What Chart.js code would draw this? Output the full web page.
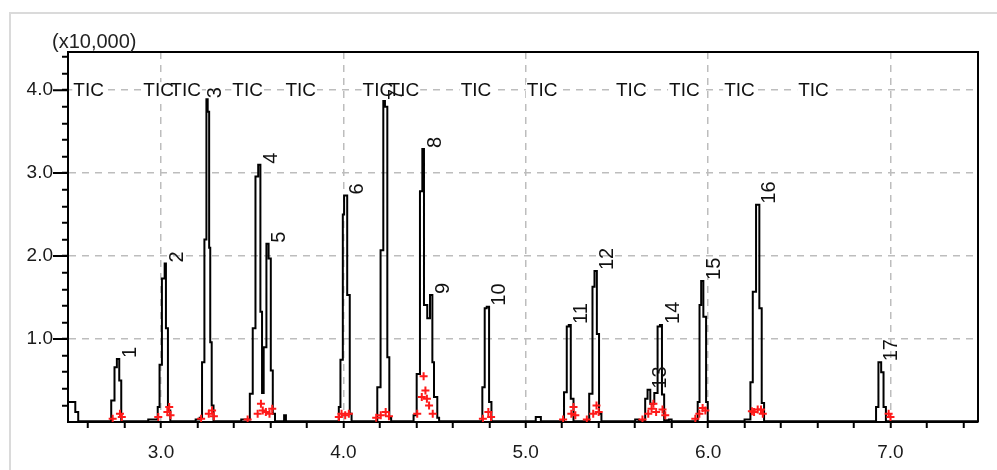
<!DOCTYPE html>
<html>
<head>
<meta charset="utf-8">
<script src="https://cdn.jsdelivr.net/npm/chart.js@4/dist/chart.umd.min.js"></script>
<style>
  html, body { margin: 0; padding: 0; background: #fff; }
  #wrap { width: 997px; height: 470px; }
</style>
</head>
<body>
<div id="wrap"><canvas id="chrom" width="997" height="470"></canvas></div>
<script>
// TIC trace, one step per scan: retention time (min) and intensity (x10,000)
const scanTimes = [
  2.490, 2.530, 2.546,
  2.727, 2.745, 2.758, 2.771, 2.782,
  2.930,
  2.982, 2.992, 3.005, 3.020, 3.027, 3.038, 3.051,
  3.190, 3.212, 3.225, 3.238, 3.249, 3.256, 3.264, 3.270, 3.278, 3.288,
  3.440, 3.487, 3.503, 3.518, 3.533, 3.545, 3.554,
  3.563, 3.578, 3.590, 3.602, 3.613, 3.625,
  3.675, 3.685,
  3.975, 3.984, 3.997, 4.004, 4.021, 4.035, 4.045,
  4.186, 4.204, 4.219, 4.228, 4.241, 4.252, 4.262,
  4.385, 4.402, 4.420, 4.433, 4.442, 4.460, 4.475, 4.488, 4.497, 4.515, 4.525,
  4.762, 4.775, 4.786, 4.799, 4.812,
  5.055, 5.083,
  5.210, 5.225, 5.236, 5.247, 5.262,
  5.348, 5.366, 5.377, 5.390, 5.402, 5.415,
  5.600, 5.620,
  5.655, 5.668, 5.683, 5.705, 5.723, 5.736, 5.747, 5.759,
  5.785, 5.800,
  5.943, 5.953, 5.962, 5.974, 5.989, 5.998,
  6.200, 6.232, 6.245, 6.263, 6.281, 6.294, 6.307,
  6.921, 6.934, 6.949, 6.962, 6.975,
  7.480
];
const scanCounts = [
  0.24, 0.12, 0.01,
  0.26, 0.66, 0.76, 0.50, 0.01,
  0.03,
  0.18, 0.69, 1.73, 1.91, 1.13, 0.14, 0.01,
  0.03, 0.05, 0.72, 2.20, 3.89, 3.74, 2.10, 0.96, 0.20, 0.01,
  0.03, 0.34, 1.13, 2.96, 3.10, 1.33, 0.35,
  0.90, 2.15, 1.97, 0.62, 0.10, 0.01,
  0.08, 0.01,
  0.18, 0.75, 2.50, 2.73, 1.53, 0.10, 0.01,
  0.42, 2.07, 3.87, 3.80, 0.78, 0.05, 0.01,
  0.08, 0.58, 2.78, 3.29, 1.41, 1.25, 1.53, 0.72, 0.30, 0.05, 0.01,
  0.42, 1.37, 1.39, 0.24, 0.01,
  0.06, 0.01,
  0.36, 1.15, 1.17, 0.28, 0.01,
  0.34, 1.63, 1.82, 1.06, 0.10, 0.01,
  0.03, 0.01,
  0.28, 0.39, 0.22, 0.35, 1.15, 1.17, 0.33, 0.02,
  0.03, 0.01,
  0.24, 1.41, 1.70, 1.27, 0.24, 0.01,
  0.03, 0.48, 1.57, 2.62, 1.37, 0.23, 0.01,
  0.18, 0.72, 0.60, 0.18, 0.01,
  0.01
];

// peak numbers and where they sit (apex)
const peakNumbers = ['1','2','3','4','5','6','7','8','9','10','11','12','13','14','15','16','17'];
const peakTimes = [2.760, 3.020, 3.225, 3.535, 3.580, 4.005, 4.220, 4.435, 4.477, 4.787, 5.237, 5.378, 5.669, 5.737, 5.963, 6.265, 6.937];
const peakCounts = [0.76, 1.91, 3.89, 3.10, 2.15, 2.73, 3.87, 3.29, 1.53, 1.39, 1.17, 1.82, 0.39, 1.17, 1.70, 2.62, 0.72];

// "TIC" tags along the 4.0 line
const ticTimes = [2.519, 2.903, 3.051, 3.391, 3.682, 4.105, 4.248, 4.643, 5.006, 5.495, 5.786, 6.088, 6.494];
const ticLevel = 4.0;

// red integration marks near the baseline
const markTimes = [
  2.735, 2.775, 2.785,
  2.985, 3.035, 3.045, 3.052,
  3.220, 3.262, 3.280, 3.290,
  3.475, 3.530, 3.548, 3.558, 3.575, 3.595, 3.610,
  3.975, 3.990, 4.010, 4.030,
  4.180, 4.205, 4.232, 4.250,
  4.405, 4.430, 4.440, 4.450, 4.458, 4.470, 4.490,
  4.765, 4.795, 4.810,
  5.205, 5.250, 5.262, 5.272,
  5.335, 5.370, 5.388, 5.400,
  5.640, 5.672, 5.690, 5.700, 5.715, 5.750, 5.765,
  5.930, 5.952, 5.970, 5.985,
  6.240, 6.252, 6.272, 6.290, 6.300,
  6.990, 7.000
];
const markCounts = [
  0.04, 0.10, 0.06,
  0.06, 0.12, 0.18, 0.08,
  0.04, 0.10, 0.14, 0.07,
  0.03, 0.10, 0.22, 0.14, 0.12, 0.10, 0.16,
  0.06, 0.10, 0.08, 0.10,
  0.05, 0.08, 0.12, 0.07,
  0.10, 0.30, 0.55, 0.38, 0.28, 0.20, 0.10,
  0.04, 0.12, 0.06,
  0.03, 0.10, 0.18, 0.08,
  0.03, 0.10, 0.20, 0.12,
  0.03, 0.10, 0.16, 0.22, 0.12, 0.15, 0.08,
  0.04, 0.10, 0.17, 0.14,
  0.13, 0.12, 0.15, 0.15, 0.10,
  0.10, 0.06
];

// axes
const xTickValues = [2.6, 2.8, 3.0, 3.2, 3.4, 3.6, 3.8, 4.0, 4.2, 4.4, 4.6, 4.8, 5.0, 5.2, 5.4, 5.6, 5.8, 6.0, 6.2, 6.4, 6.6, 6.8, 7.0, 7.2, 7.4];
const xTickLabels = ['3.0', '4.0', '5.0', '6.0', '7.0'];
const yTickValues = [0.2, 0.4, 0.6, 0.8, 1.0, 1.2, 1.4, 1.6, 1.8, 2.0, 2.2, 2.4, 2.6, 2.8, 3.0, 3.2, 3.4, 3.6, 3.8, 4.0, 4.2, 4.4];
const yTickLabels = ['1.0', '2.0', '3.0', '4.0'];
const yUnitLabel = '(x10,000)';

const FONT = '"Liberation Sans", Arial, sans-serif';
Chart.defaults.font.family = FONT;

const labelFor = (labels, v) => labels.find(l => Math.abs(parseFloat(l) - v) < 1e-6) || '';
const gridFor = labels => c => (c.tick && labelFor(labels, c.tick.value)) ? '#bdbdbd' : 'rgba(0,0,0,0)';

const overlay = {
  id: 'overlay',
  beforeDraw(chart) {
    const ctx = chart.ctx;
    ctx.save();
    ctx.strokeStyle = '#dadada';
    ctx.lineWidth = 2;
    ctx.beginPath();
    ctx.moveTo(10, 470);
    ctx.lineTo(10, 13);
    ctx.lineTo(997, 13);
    ctx.stroke();
    ctx.restore();
  },
  beforeDatasetsDraw(chart) {
    const {ctx, scales: {x, y}} = chart;
    ctx.save();
    ctx.font = '19px ' + FONT;
    ctx.textBaseline = 'middle';
    const py = y.getPixelForValue(ticLevel);
    const w = ctx.measureText('TIC').width;
    ticTimes.forEach(t => {
      const px = x.getPixelForValue(t);
      ctx.fillStyle = '#fff';
      ctx.fillRect(px - 1, py - 8, w + 2, 16);
    });
    ctx.fillStyle = '#111';
    ticTimes.forEach(t => ctx.fillText('TIC', x.getPixelForValue(t), py + 1));
    ctx.restore();
  },
  afterDatasetsDraw(chart) {
    const {ctx, chartArea: a, scales: {x, y}} = chart;
    ctx.save();
    // peak numbers, written upward
    ctx.font = '20px ' + FONT;
    ctx.fillStyle = '#111';
    ctx.textAlign = 'left';
    ctx.textBaseline = 'middle';
    peakNumbers.forEach((n, i) => {
      const px = x.getPixelForValue(peakTimes[i]) + 13;
      const py = y.getPixelForValue(peakCounts[i]) - 1;
      ctx.save();
      ctx.translate(px, py);
      ctx.rotate(-Math.PI / 2);
      ctx.fillText(n, 0, 0);
      ctx.restore();
    });
    // top and right frame
    ctx.strokeStyle = '#000';
    ctx.lineWidth = 2;
    ctx.beginPath();
    ctx.moveTo(a.left, a.top);
    ctx.lineTo(a.right, a.top);
    ctx.lineTo(a.right, a.bottom);
    ctx.stroke();
    // longer major ticks on the y axis
    ctx.beginPath();
    yTickLabels.forEach(l => {
      const py = y.getPixelForValue(parseFloat(l));
      ctx.moveTo(a.left - 15, py);
      ctx.lineTo(a.left, py);
    });
    ctx.stroke();
    // unit label
    ctx.font = '20px ' + FONT;
    ctx.fillStyle = '#222';
    ctx.fillText(yUnitLabel, 52, 42);
    ctx.restore();
  }
};

new Chart(document.getElementById('chrom'), {
  type: 'line',
  data: {
    datasets: [
      {
        type: 'scatter',
        order: 0,
        data: markTimes.map((t, i) => ({x: t, y: markCounts[i]})),
        pointStyle: 'cross',
        pointRadius: 4,
        pointBorderWidth: 2,
        pointBorderColor: '#ff1a1a',
        pointBackgroundColor: '#ff1a1a',
        showLine: false
      },
      {
        order: 1,
        data: scanTimes.map((t, i) => ({x: t, y: scanCounts[i]})),
        stepped: true,
        borderColor: '#000',
        borderWidth: 2,
        pointRadius: 0,
        fill: false
      }
    ]
  },
  options: {
    responsive: false,
    animation: false,
    devicePixelRatio: 1,
    layout: { padding: { left: 0, top: 52, right: 19, bottom: 0 } },
    plugins: { legend: { display: false }, tooltip: { enabled: false } },
    scales: {
      x: {
        type: 'linear',
        min: 2.49,
        max: 7.48,
        bounds: 'data',
        afterBuildTicks: s => { s.ticks = xTickValues.map(v => ({value: v})); },
        afterFit: s => { s.height = 48; },
        ticks: {
          autoSkip: false,
          maxRotation: 0,
          padding: 13,
          color: '#1a1a1a',
          font: { size: 19 },
          callback: v => labelFor(xTickLabels, v)
        },
        grid: {
          color: gridFor(xTickLabels),
          lineWidth: 1.5,
          tickColor: '#000',
          tickLength: 6,
          tickWidth: 2,
          tickBorderDash: []
        },
        border: { display: true, color: '#000', width: 2, dash: [7, 6] }
      },
      y: {
        type: 'linear',
        min: 0,
        max: 4.46,
        bounds: 'data',
        afterBuildTicks: s => { s.ticks = yTickValues.map(v => ({value: v})); },
        afterFit: s => { s.width = 68; },
        ticks: {
          autoSkip: false,
          padding: 9,
          color: '#1a1a1a',
          font: { size: 19 },
          callback: v => labelFor(yTickLabels, v)
        },
        grid: {
          color: gridFor(yTickLabels),
          lineWidth: 1.5,
          tickColor: '#000',
          tickLength: 6,
          tickWidth: 2,
          tickBorderDash: []
        },
        border: { display: true, color: '#000', width: 2, dash: [7, 6] }
      }
    }
  },
  plugins: [overlay]
});
</script>
</body>
</html>
